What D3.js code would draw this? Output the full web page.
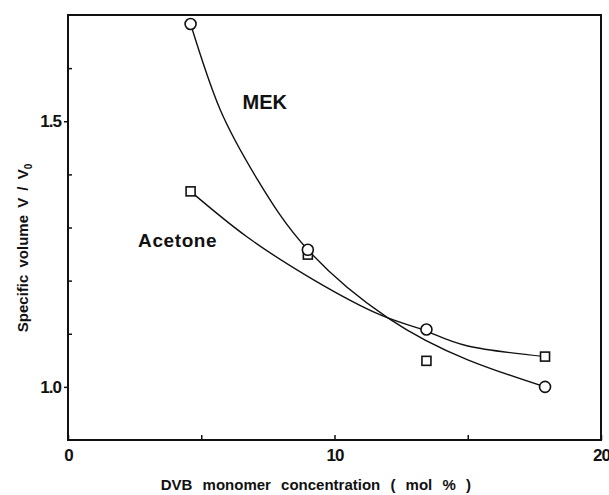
<!DOCTYPE html>
<html>
<head>
<meta charset="utf-8">
<script src="https://cdn.jsdelivr.net/npm/d3@7"></script>
<style>
  body { margin: 0; background: #fff; }
  svg { display: block; font-family: 'Liberation Sans', Arial, sans-serif; }
  .lbl { font-weight: bold; fill: #111; }
  .fit { fill: none; stroke: #111; stroke-width: 1.4; }
</style>
</head>
<body>
<svg></svg>
<script>
const SIZE = { width: 609, height: 495 };
const MARGIN = { left: 68, right: 8, top: 15, bottom: 55 };
const WIDTH = SIZE.width - MARGIN.left - MARGIN.right;
const HEIGHT = SIZE.height - MARGIN.top - MARGIN.bottom;

// measured points
const dvbConc = [4.6, 9.0, 13.45, 17.9];
const mekVolume = [1.683, 1.258, 1.108, 1.0];
const acetoneVolume = [1.368, 1.249, 1.049, 1.057];

// fitted curves as drawn in the figure
const mekFitX = [4.6, 5.7, 7.1, 9.0, 12.0, 15.0, 17.9];
const mekFitY = [1.683, 1.523, 1.391, 1.258, 1.130, 1.051, 1.0];
const acetoneFitX = [4.6, 6.7, 9.2, 11.7, 13.4, 15.0, 17.9];
const acetoneFitY = [1.368, 1.283, 1.202, 1.136, 1.106, 1.077, 1.057];

const xTicks = [0, 10, 20];
const xMinorTicks = [5, 15];
const yTicks = [1.0, 1.5];
const yMinorTicks = [1.1, 1.2, 1.3, 1.4, 1.6];

const svg = d3.select('svg')
  .attr('width', SIZE.width)
  .attr('height', SIZE.height);

const g = svg.append('g')
  .attr('transform', `translate(${MARGIN.left},${MARGIN.top})`);

const x = d3.scaleLinear().domain([0, 20]).range([0, WIDTH]);
const y = d3.scaleLinear().domain([0.9, 1.7]).range([HEIGHT, 0]);

// frame
g.append('rect')
  .attr('width', WIDTH)
  .attr('height', HEIGHT)
  .attr('fill', 'none')
  .attr('stroke', '#111')
  .attr('stroke-width', 2);

// x ticks point inward
g.append('g')
  .attr('transform', `translate(0,${HEIGHT})`)
  .call(d3.axisBottom(x).tickValues(xTicks).tickSize(-5).tickPadding(9).tickFormat(d3.format('d')));
g.append('g')
  .attr('transform', `translate(0,${HEIGHT})`)
  .call(d3.axisBottom(x).tickValues(xMinorTicks).tickSize(-5).tickFormat(''));

g.append('g')
  .call(d3.axisLeft(y).tickValues(yTicks).tickSize(4).tickPadding(3).tickFormat(d3.format('.1f')));
g.append('g')
  .call(d3.axisLeft(y).tickValues(yMinorTicks).tickSize(-4).tickFormat(''));

g.selectAll('.domain').remove();
g.selectAll('.tick line').attr('stroke', '#111').attr('stroke-width', 1.5);
g.selectAll('.tick text')
  .attr('class', 'lbl')
  .attr('font-size', 17)
  .attr('letter-spacing', -1);

// fitted curves
const line = d3.line()
  .x(d => x(d[0]))
  .y(d => y(d[1]))
  .curve(d3.curveNatural);

g.append('path')
  .attr('class', 'fit')
  .attr('d', line(d3.zip(mekFitX, mekFitY)));

g.append('path')
  .attr('class', 'fit')
  .attr('d', line(d3.zip(acetoneFitX, acetoneFitY)));

// markers
g.selectAll('.sq')
  .data(d3.zip(dvbConc, acetoneVolume))
  .join('rect')
  .attr('x', d => x(d[0]) - 4.5)
  .attr('y', d => y(d[1]) - 4.5)
  .attr('width', 9)
  .attr('height', 9)
  .attr('fill', '#fff')
  .attr('stroke', '#111')
  .attr('stroke-width', 1.6);

g.selectAll('.ci')
  .data(d3.zip(dvbConc, mekVolume))
  .join('circle')
  .attr('cx', d => x(d[0]))
  .attr('cy', d => y(d[1]))
  .attr('r', 5.5)
  .attr('fill', '#fff')
  .attr('stroke', '#111')
  .attr('stroke-width', 1.6);

// series labels
g.append('text')
  .attr('class', 'lbl')
  .attr('x', x(6.55))
  .attr('y', y(1.523))
  .attr('font-size', 20)
  .text('MEK');

g.append('text')
  .attr('class', 'lbl')
  .attr('x', x(2.63))
  .attr('y', y(1.263))
  .attr('font-size', 19)
  .attr('letter-spacing', 0.6)
  .text('Acetone');

// axis titles
svg.append('text')
  .attr('class', 'lbl')
  .attr('x', MARGIN.left + x(9.3))
  .attr('y', 490)
  .attr('text-anchor', 'middle')
  .attr('font-size', 15)
  .attr('word-spacing', 6)
  .text('DVB  monomer  concentration  ( mol % )');

const yt = svg.append('text')
  .attr('class', 'lbl')
  .attr('transform', `translate(28,248) rotate(-90)`)
  .attr('text-anchor', 'middle')
  .attr('font-size', 15)
  .attr('word-spacing', 3);
yt.append('tspan').text('Specific  volume  V / V');
yt.append('tspan').attr('font-size', 10).attr('dy', 4).text('0');
</script>
</body>
</html>
